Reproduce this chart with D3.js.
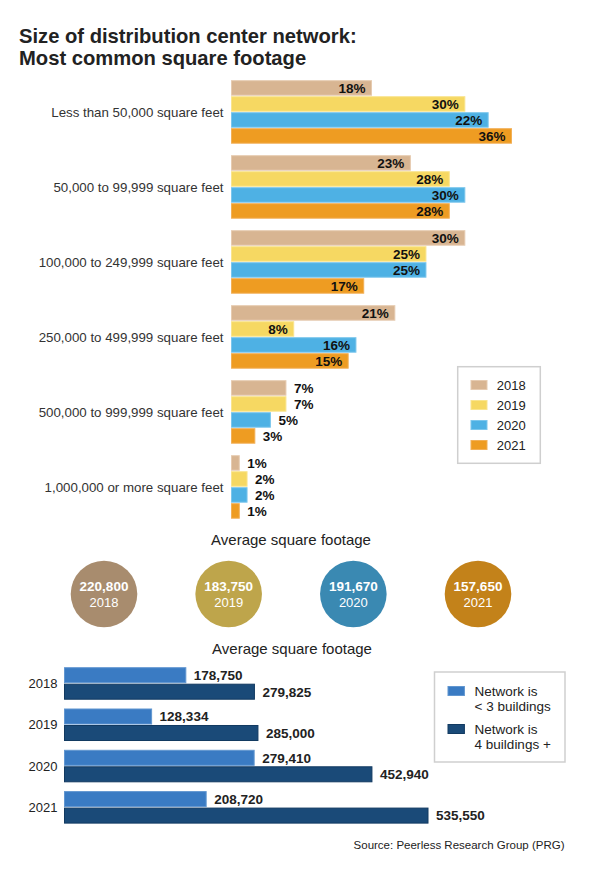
<!DOCTYPE html>
<html>
<head>
<meta charset="utf-8">
<script src="https://cdn.jsdelivr.net/npm/d3@7/dist/d3.min.js"></script>
<style>
  html, body { margin: 0; padding: 0; background: #fff; }
  svg { display: block; font-family: "Liberation Sans", Arial, Helvetica, sans-serif; }
</style>
</head>
<body>
<svg id="chart" width="590" height="882"></svg>
<script>
// ---------- DATA ----------
const categories = [
  "Less than 50,000 square feet",
  "50,000 to 99,999 square feet",
  "100,000 to 249,999 square feet",
  "250,000 to 499,999 square feet",
  "500,000 to 999,999 square feet",
  "1,000,000 or more square feet"
];
const years = ["2018", "2019", "2020", "2021"];
// bar lengths as drawn in the reference
const values2018 = [18, 23, 30, 21, 7, 1];
const values2019 = [30, 28, 25, 8, 7, 2];
const values2020 = [33, 30, 25, 16, 5, 2];
const values2021 = [36, 28, 17, 15, 3, 1];
// percentages printed on the bars in the reference
const labels2018 = [18, 23, 30, 21, 7, 1];
const labels2019 = [30, 28, 25, 8, 7, 2];
const labels2020 = [22, 30, 25, 16, 5, 2];
const labels2021 = [36, 28, 17, 15, 3, 1];

const avgYears = ["2018", "2019", "2020", "2021"];
const avgValues = [220800, 183750, 191670, 157650];

const networkYears = ["2018", "2019", "2020", "2021"];
const networkSeries = ["Network is\n< 3 buildings", "Network is\n4 buildings +"];
const smallNetwork = [178750, 128334, 279410, 208720];
const largeNetwork = [279825, 285000, 452940, 535550];

// ---------- STYLE ----------
const yearColors = ["#d8b592", "#f6d862", "#4eb1e4", "#ee9c22"];
const yearStroke = ["#e6cbb0", "#f9e48e", "#7cc6ec", "#f2b057"];
const circleColors = ["#a88c6e", "#bea54b", "#3a89b2", "#c3821a"];
const netColors = ["#3a7bc3", "#1a4a78"];
const netStroke = ["#6196d0", "#123a61"];

const svg = d3.select("#chart");
const fmt = d3.format(",");

// ---------- TITLE ----------
const title = svg.append("text").attr("x", 19).attr("y", 43)
  .attr("font-size", 20.2).attr("font-weight", "bold").attr("fill", "#222");
title.append("tspan").attr("x", 19).attr("y", 43).text("Size of distribution center network:");
title.append("tspan").attr("x", 19).attr("y", 64.5).text("Most common square footage");

// ---------- TOP GROUPED BAR CHART ----------
const seriesValues = [values2018, values2019, values2020, values2021];
const seriesLabels = [labels2018, labels2019, labels2020, labels2021];
const xTop = d3.scaleLinear().domain([0, 36]).range([231.5, 231.5 + 280]);
const yGroup = d3.scaleBand().domain(categories).range([80.7, 518.2]).paddingInner(1 - 62.5 / 75).paddingOuter(0);
const yInner = d3.scaleBand().domain(years).range([0, yGroup.bandwidth()]).paddingInner(0.094).paddingOuter(0);

const groups = svg.append("g").selectAll("g").data(categories).join("g")
  .attr("transform", d => `translate(0,${yGroup(d)})`);

groups.append("text")
  .attr("x", 223.5).attr("y", yGroup.bandwidth() / 2)
  .attr("dy", "0.35em").attr("text-anchor", "end")
  .attr("font-size", 13.3).attr("fill", "#333")
  .text(d => d);

groups.each(function(cat, ci) {
  const g = d3.select(this);
  const rows = years.map((y, yi) => ({ year: y, yi, value: seriesValues[yi][ci], label: seriesLabels[yi][ci] }));
  g.selectAll("rect").data(rows).join("rect")
    .attr("x", xTop(0))
    .attr("y", d => yInner(d.year))
    .attr("width", d => xTop(d.value) - xTop(0))
    .attr("height", yInner.bandwidth())
    .attr("fill", d => yearColors[d.yi])
    .attr("stroke", d => yearStroke[d.yi])
    .attr("stroke-width", 1);
  g.selectAll("text.val").data(rows).join("text")
    .attr("class", "val")
    .attr("x", d => d.value >= 8 ? xTop(d.value) - 6 : xTop(d.value) + 8)
    .attr("y", d => yInner(d.year) + yInner.bandwidth() / 2)
    .attr("dy", "0.36em")
    .attr("text-anchor", d => d.value >= 8 ? "end" : "start")
    .attr("font-size", 13.5).attr("font-weight", "bold").attr("fill", "#111")
    .text(d => d.label + "%");
});

// Legend 1
const leg1 = svg.append("g");
leg1.append("rect").attr("x", 457.7).attr("y", 366.7).attr("width", 82.6).attr("height", 96.6)
  .attr("fill", "#fff").attr("stroke", "#cfcfcf").attr("stroke-width", 1.5);
const leg1Rows = leg1.selectAll("g").data(years).join("g")
  .attr("transform", (d, i) => `translate(471,${385 + i * 20})`);
leg1Rows.append("rect").attr("x", 0).attr("y", -4.5).attr("width", 16).attr("height", 9)
  .attr("fill", (d, i) => yearColors[i]).attr("stroke", (d, i) => yearStroke[i]);
leg1Rows.append("text").attr("x", 25.7).attr("y", 0).attr("dy", "0.35em")
  .attr("font-size", 13).attr("fill", "#222").text(d => d);

// ---------- CIRCLES ----------
svg.append("text").attr("x", 291).attr("y", 544.5).attr("text-anchor", "middle")
  .attr("font-size", 15).attr("fill", "#222").text("Average square footage");

const xCircle = d3.scalePoint().domain(avgYears).range([104, 478]);
const circ = svg.append("g").selectAll("g").data(avgYears).join("g")
  .attr("transform", d => `translate(${xCircle(d)},594)`);
circ.append("circle").attr("r", 33.3).attr("fill", (d, i) => circleColors[i]);
circ.append("text").attr("y", -3).attr("text-anchor", "middle")
  .attr("font-size", 13.5).attr("font-weight", "bold").attr("fill", "#fff")
  .text((d, i) => fmt(avgValues[i]));
circ.append("text").attr("y", 12.5).attr("text-anchor", "middle")
  .attr("font-size", 13).attr("fill", "#fff")
  .text(d => d);

// ---------- BOTTOM BAR CHART ----------
svg.append("text").attr("x", 292).attr("y", 653.5).attr("text-anchor", "middle")
  .attr("font-size", 15).attr("fill", "#222").text("Average square footage");

const xBot = d3.scaleLinear().domain([0, 535550]).range([64.5, 428]);
const yBot = d3.scaleBand().domain(networkYears).range([667.7, 823.1]).paddingInner(0.237).paddingOuter(0);
const yBotInner = d3.scaleBand().domain([0, 1]).range([0, yBot.bandwidth()]).paddingInner(0.09).paddingOuter(0);

const bGroups = svg.append("g").selectAll("g").data(networkYears).join("g")
  .attr("transform", d => `translate(0,${yBot(d)})`);
bGroups.append("text").attr("x", 57.5).attr("y", yBot.bandwidth() / 2).attr("dy", "0.35em")
  .attr("text-anchor", "end").attr("font-size", 13).attr("fill", "#222").text(d => d);

bGroups.each(function(yr, yi) {
  const g = d3.select(this);
  const rows = [{ s: 0, value: smallNetwork[yi] }, { s: 1, value: largeNetwork[yi] }];
  g.selectAll("rect").data(rows).join("rect")
    .attr("x", xBot(0))
    .attr("y", d => yBotInner(d.s))
    .attr("width", d => xBot(d.value) - xBot(0))
    .attr("height", yBotInner.bandwidth())
    .attr("fill", d => netColors[d.s])
    .attr("stroke", d => netStroke[d.s]).attr("stroke-width", 1);
  g.selectAll("text.val").data(rows).join("text").attr("class", "val")
    .attr("x", d => xBot(d.value) + 8)
    .attr("y", d => yBotInner(d.s) + yBotInner.bandwidth() / 2)
    .attr("dy", "0.36em")
    .attr("font-size", 13.5).attr("font-weight", "bold").attr("fill", "#222")
    .text(d => fmt(d.value));
});

// Legend 2
const leg2 = svg.append("g");
leg2.append("rect").attr("x", 434.5).attr("y", 672).attr("width", 130.5).attr("height", 90)
  .attr("fill", "#fff").attr("stroke", "#cfcfcf").attr("stroke-width", 1.5);
const leg2Rows = leg2.selectAll("g").data(networkSeries).join("g")
  .attr("transform", (d, i) => `translate(448,${691 + i * 38})`);
leg2Rows.append("rect").attr("x", 0).attr("y", -4.5).attr("width", 16.4).attr("height", 9)
  .attr("fill", (d, i) => netColors[i]).attr("stroke", (d, i) => netStroke[i]);
leg2Rows.each(function(d) {
  const t = d3.select(this).append("text").attr("font-size", 13.5).attr("fill", "#222");
  d.split("\n").forEach((line, li) => {
    t.append("tspan").attr("x", 26.6).attr("y", li * 14.8).attr("dy", "0.35em").text(line);
  });
});

// Source
svg.append("text").attr("x", 564.5).attr("y", 848.5).attr("text-anchor", "end")
  .attr("font-size", 11.5).attr("fill", "#222").text("Source: Peerless Research Group (PRG)");
</script>
</body>
</html>
